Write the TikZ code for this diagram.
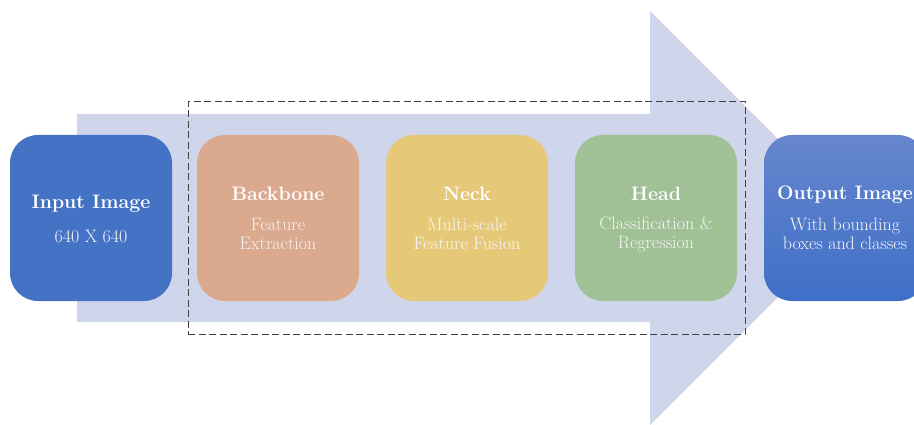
\documentclass[tikz,border=0pt]{standalone}
\usepackage{fontspec}
\usetikzlibrary{positioning}
\definecolor{arrowbg}{HTML}{CFD5EA}
\definecolor{inblue}{HTML}{4472C4}
\definecolor{outtop}{HTML}{6686CC}
\definecolor{outbot}{HTML}{3F6FC8}
\definecolor{bbcol}{HTML}{DBA98E}
\definecolor{neckcol}{HTML}{E6C978}
\definecolor{headcol}{HTML}{A0C096}
\definecolor{subwhite}{HTML}{F6F6F6}
\tikzset{
  stagebox/.style={rectangle, rounded corners=28pt, minimum width=162pt, minimum height=166pt, inner sep=0pt, draw=none},
  titletext/.style={font=\fontsize{19.5}{22}\selectfont\bfseries, text=white, inner sep=0pt},
  subtext/.style={font=\fontsize{18}{19}\selectfont, text=subwhite, align=center, inner sep=0pt},
}
\begin{document}
\begin{tikzpicture}[x=1pt,y=-1pt]
\useasboundingbox (0,0) rectangle (914,425);
\clip (0,0) rectangle (914,425);
% big arrow
\fill[arrowbg] (77,114) -- (650,114) -- (650,11) -- (857,218) -- (650,425) -- (650,322) -- (77,322) -- cycle;
% dashed frame
\node[draw=black!75, dash pattern=on 7pt off 3.5pt, line width=1pt, rectangle, minimum width=557pt, minimum height=232pt, inner sep=0pt] (frame) at (466.5,218) {};
% boxes
\node[stagebox, fill=inblue] (in) at (91,218) {};
\node[stagebox, fill=bbcol] (bb) at (278,218) {};
\node[stagebox, fill=neckcol] (neck) at (467,218) {};
\node[stagebox, fill=headcol] (head) at (656,218) {};
\node[stagebox, top color=outtop, bottom color=outbot] (out) at (845,218) {};
% texts
\node[titletext] (inT) at (91,204) {Input Image};
\node[subtext] (inS) at (91,236) {640 X 640};
\node[titletext] (bbT) at (278,194) {Backbone};
\node[subtext] (bbS) at (278,234) {Feature\\Extraction};
\node[titletext] (neckT) at (467,194) {Neck};
\node[subtext] (neckS) at (467,234) {Multi-scale\\Feature Fusion};
\node[titletext] (headT) at (656,194) {Head};
\node[subtext] (headS) at (656,234) {Classification \&\\Regression};
\node[titletext] (outT) at (845,195) {Output Image};
\node[subtext] (outS) at (845,234) {With bounding\\boxes and classes};
\end{tikzpicture}
\end{document}
